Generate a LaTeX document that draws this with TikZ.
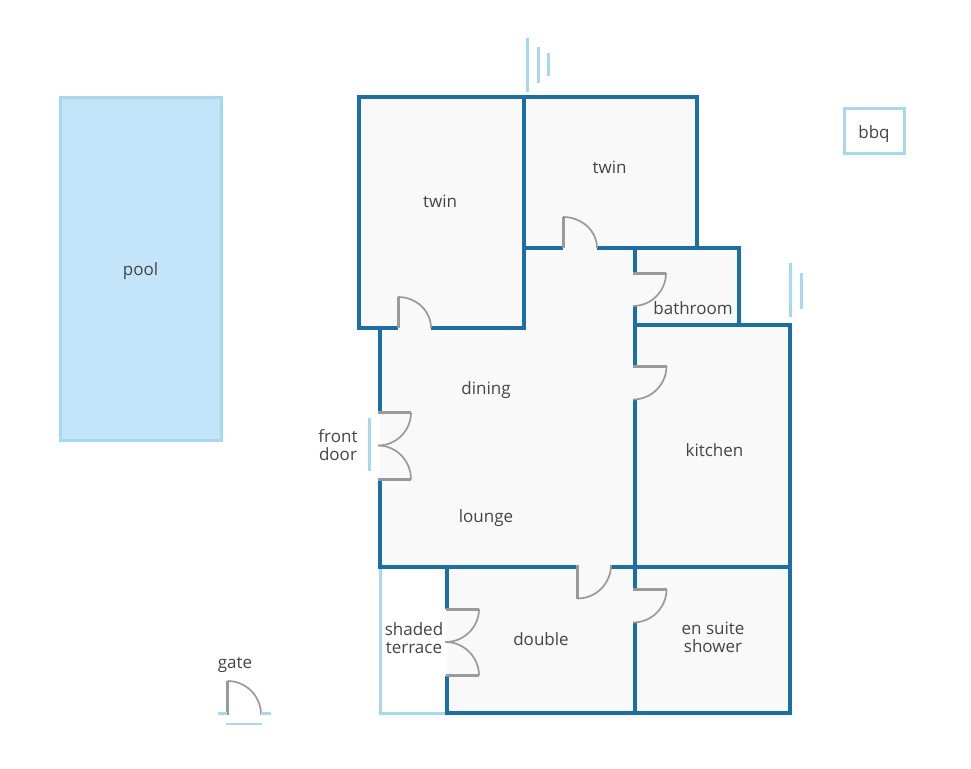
\documentclass[tikz,border=0pt]{standalone}
\usepackage{fontspec}
\setmainfont{Open Sans}
\usetikzlibrary{calc}
\definecolor{wallblue}{HTML}{1A6FA6}
\definecolor{lightblue}{HTML}{A6D9F0}
\definecolor{poolfill}{HTML}{C4E5F9}
\definecolor{floorfill}{HTML}{F9F9FA}
\definecolor{leafgrey}{HTML}{9A9A9A}
\definecolor{labelgrey}{HTML}{444444}
\tikzset{
  wall/.style={draw=wallblue,line width=4.5pt,line join=miter,line cap=butt},
  lightwall/.style={draw=lightblue,line width=3pt,line cap=butt},
  leaf/.style={draw=leafgrey,line width=3pt},
  swing/.style={draw=leafgrey,line width=1.7pt},
  roomlabel/.style={text=labelgrey,font=\fontsize{17}{18}\selectfont,align=center,inner sep=0pt}
}
\newcommand{\doorswing}[6]{%
  \draw[leaf] (#1,#2) -- (#3,#4);
  \draw[swing] (#3,#4) .. controls ($(#3,#4)+0.552*(#5,#6)-0.552*(#1,#2)$) and ($(#5,#6)+0.552*(#3,#4)-0.552*(#1,#2)$) .. (#5,#6);
}
\begin{document}
\begin{tikzpicture}[x=1pt,y=-1pt]
\useasboundingbox (0,0) rectangle (971,768);
\fill[white] (0,0) rectangle (971,768);
% pool and bbq
\draw[lightwall,fill=poolfill,line width=3pt] (60,97) rectangle (221,440);
\draw[lightwall,line width=3pt] (844.5,108.5) rectangle (904,153);
% floors
\fill[floorfill] (359,97) -- (697,97) -- (697,248) -- (739,248) -- (739,325) -- (790,325) -- (790,713) -- (447,713) -- (447,567) -- (380,567) -- (380,328) -- (359,328) -- cycle;
% terrace
\draw[lightwall] (380,567) -- (380,713) -- (447,713);
% windows
\draw[lightwall] (527,38) -- (527,92);
\draw[lightwall] (538.5,47) -- (538.5,83);
\draw[lightwall] (548.5,53.5) -- (548.5,76);
\draw[lightwall] (790,263) -- (790,317);
\draw[lightwall] (801,273) -- (801,309);
\draw[lightwall] (369.5,418) -- (369.5,471);
% walls
\draw[wall] (398,328) -- (359,328) -- (359,97) -- (697,97) -- (697,248) -- (739,248) -- (739,325) -- (790,325) -- (790,713) -- (447,713) -- (447,676);
\draw[wall] (447,609) -- (447,567);
\draw[wall] (380,328) -- (380,412);
\draw[wall] (380,480) -- (380,567) -- (577,567);
\draw[wall] (611,567) -- (790,567);
\draw[wall] (431,328) -- (524,328) -- (524,97);
\draw[wall] (524,248) -- (563,248);
\draw[wall] (597,248) -- (697,248);
\draw[wall] (635,248) -- (635,273);
\draw[wall] (635,306) -- (635,366);
\draw[wall] (635,399) -- (635,589);
\draw[wall] (635,622) -- (635,713);
\draw[wall] (635,325) -- (739,325);
% doors
\doorswing{398}{328}{398}{297}{431}{328}
\doorswing{563}{248}{563}{217}{597}{248}
\doorswing{633}{273}{666}{273}{633}{306}
\doorswing{633}{366}{666.5}{366}{633}{399.5}
\doorswing{378}{412.5}{411}{412.5}{378}{445.5}
\doorswing{378}{479.5}{411}{479.5}{378}{445.5}
\doorswing{445.5}{609}{479}{609}{445.5}{642}
\doorswing{445.5}{675.5}{479}{675.5}{445.5}{642}
\doorswing{577.5}{565}{577.5}{598.5}{611}{565}
\doorswing{633}{589.5}{666.5}{589.5}{633}{622.5}
\doorswing{227.5}{714.5}{227.5}{681}{261}{714.5}
% gate
\draw[lightwall,line width=2.2pt] (218,713.5) -- (227,713.5);
\draw[lightwall,line width=2.2pt] (261,713.5) -- (271,713.5);
\draw[lightwall,line width=2.2pt] (226,724) -- (262,724);
% labels
\node[roomlabel] (pool) at (140.5,271) {pool};
\node[roomlabel] (twinA) at (440,201) {twin};
\node[roomlabel] (twinB) at (609.5,167) {twin};
\node[roomlabel] (bbq) at (874,134) {bbq};
\node[roomlabel] (bathroom) at (693,308.5) {bathroom};
\node[roomlabel] (dining) at (486,390) {dining};
\node[roomlabel] (frontdoor) at (338,445) {front\\door};
\node[roomlabel] (kitchen) at (714.5,450.5) {kitchen};
\node[roomlabel] (lounge) at (486,518) {lounge};
\node[roomlabel] (shaded) at (414,638.5) {shaded\\terrace};
\node[roomlabel] (double) at (541,639) {double};
\node[roomlabel] (ensuite) at (713,637.5) {en suite\\shower};
\node[roomlabel] (gate) at (235,664.5) {gate};
\end{tikzpicture}
\end{document}
